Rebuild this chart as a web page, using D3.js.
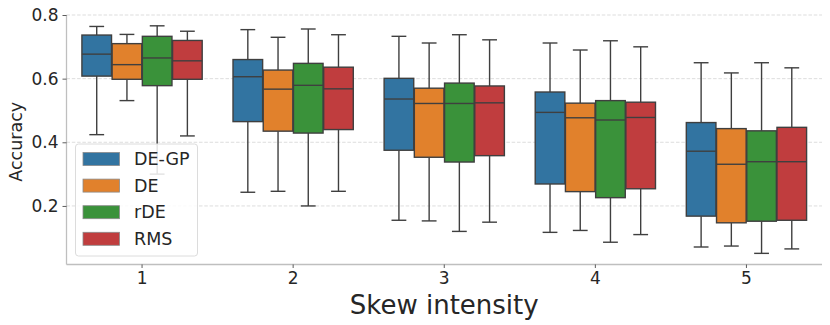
<!DOCTYPE html>
<html><head><meta charset="utf-8">
<script src="https://cdn.jsdelivr.net/npm/d3@7"></script>
<style>body{margin:0;background:#fff}svg{display:block}text{font-family:"DejaVu Sans",sans-serif;fill:#262626}</style>
</head><body><svg id="c" width="830" height="325"></svg>
<script>
const categories = ["1","2","3","4","5"];
const seriesNames = ["DE-GP","DE","rDE","RMS"];
const colors = ["#3274a1","#e1812c","#3a923a","#c03d3e"];
// each entry: [lowerWhisker, Q1, median, Q3, upperWhisker] per category
const deGP = [[0.424,0.608,0.677,0.737,0.764],[0.243,0.465,0.606,0.660,0.754],[0.155,0.375,0.536,0.601,0.733],[0.117,0.269,0.494,0.558,0.712],[0.071,0.168,0.372,0.462,0.650]];
const de   = [[0.531,0.598,0.644,0.710,0.739],[0.246,0.435,0.567,0.627,0.730],[0.153,0.353,0.522,0.570,0.712],[0.123,0.245,0.477,0.523,0.690],[0.074,0.147,0.331,0.443,0.618]];
const rde  = [[0.300,0.578,0.665,0.733,0.766],[0.200,0.429,0.579,0.648,0.756],[0.120,0.338,0.522,0.586,0.738],[0.086,0.226,0.470,0.531,0.719],[0.051,0.152,0.339,0.436,0.650]];
const rms  = [[0.420,0.598,0.656,0.720,0.749],[0.246,0.440,0.568,0.636,0.738],[0.149,0.358,0.524,0.577,0.722],[0.110,0.254,0.478,0.526,0.700],[0.065,0.155,0.339,0.447,0.634]];
const yTicks = [0.2,0.4,0.6,0.8];
const xLabel = "Skew intensity", yLabel = "Accuracy";

const series = [deGP, de, rde, rms];
const svg = d3.select("#c");
const L = 66.5, R = 822, T = 15, B = 264.5;
const x = d3.scaleBand().domain(categories).range([L, R]).padding(0);
const y = d3.scaleLinear().domain([0.016, 0.8]).range([B, T]);
const inner = d3.scaleBand().domain(seriesNames).range([0, x.bandwidth()*0.8]);

// grid
svg.append("g").selectAll("line").data(yTicks).join("line")
  .attr("x1", L).attr("x2", R).attr("y1", d=>y(d)).attr("y2", d=>y(d))
  .attr("stroke", "#d9d9d9").attr("stroke-width", 0.9).attr("stroke-dasharray", "3.5,1.8");

// boxes
const lc = "#3f3f3f";
series.forEach((s, si) => {
  const g = svg.append("g");
  s.forEach((v, ci) => {
    const bw = inner.bandwidth()*0.98;
    const cx = x(categories[ci]) + x.bandwidth()*0.1 + inner(seriesNames[si]) + inner.bandwidth()/2;
    const [lo, q1, med, q3, hi] = v;
    g.append("line").attr("x1", cx).attr("x2", cx).attr("y1", y(hi)).attr("y2", y(q3)).attr("stroke", lc).attr("stroke-width", 1.4);
    g.append("line").attr("x1", cx).attr("x2", cx).attr("y1", y(q1)).attr("y2", y(lo)).attr("stroke", lc).attr("stroke-width", 1.4);
    g.append("line").attr("x1", cx-bw/4).attr("x2", cx+bw/4).attr("y1", y(hi)).attr("y2", y(hi)).attr("stroke", lc).attr("stroke-width", 1.4);
    g.append("line").attr("x1", cx-bw/4).attr("x2", cx+bw/4).attr("y1", y(lo)).attr("y2", y(lo)).attr("stroke", lc).attr("stroke-width", 1.4);
    g.append("rect").attr("x", cx-bw/2).attr("y", y(q3)).attr("width", bw).attr("height", y(q1)-y(q3))
      .attr("fill", colors[si]).attr("stroke", lc).attr("stroke-width", 1.4);
    g.append("line").attr("x1", cx-bw/2).attr("x2", cx+bw/2).attr("y1", y(med)).attr("y2", y(med)).attr("stroke", lc).attr("stroke-width", 1.4);
  });
});

// axes
const xa = svg.append("g").attr("transform", `translate(0,${B})`).call(d3.axisBottom(x).tickSize(3.5).tickPadding(4));
xa.select(".domain").attr("stroke", "#bfbfbf").attr("stroke-width", 1.3).attr("d", `M${L},0H${R}`);
xa.selectAll(".tick line").attr("stroke", "#333").attr("stroke-width", 0.8);
xa.selectAll("text").attr("font-size", 17).attr("fill", "#262626").style("font-family", "DejaVu Sans");
const ya = svg.append("g").attr("transform", `translate(${L},0)`).call(d3.axisLeft(y).tickValues(yTicks).tickFormat(d3.format(".1f")).tickSize(4).tickPadding(4));
ya.select(".domain").attr("stroke", "#bfbfbf").attr("stroke-width", 1.3).attr("d", `M0,${T}V${B}`);
ya.selectAll(".tick line").attr("stroke", "#333").attr("stroke-width", 0.8);
ya.selectAll("text").attr("font-size", 17).attr("fill", "#262626").style("font-family", "DejaVu Sans");

svg.append("text").attr("x", (L+R)/2).attr("y", 314).attr("text-anchor", "middle").attr("font-size", 26).text(xLabel);
svg.append("text").attr("transform", `translate(22,${(T+B)/2+2}) rotate(-90)`).attr("text-anchor", "middle").attr("font-size", 17.5).text(yLabel);

// legend
const lg = svg.append("g");
lg.append("rect").attr("x", 75.5).attr("y", 144).attr("width", 122).attr("height", 112).attr("rx", 3)
  .attr("fill", "#fff").attr("fill-opacity", 0.85).attr("stroke", "#dcdcdc").attr("stroke-width", 1);
seriesNames.forEach((n, i) => {
  const yy = 152.5 + i*26.6;
  lg.append("rect").attr("x", 83).attr("y", yy).attr("width", 36.5).attr("height", 13)
    .attr("fill", colors[i]).attr("stroke", "#8a8a8a").attr("stroke-width", 0.8);
  lg.append("text").attr("x", 134).attr("y", yy + 12.5).attr("font-size", 17.5).text(n);
});
</script></body></html>
